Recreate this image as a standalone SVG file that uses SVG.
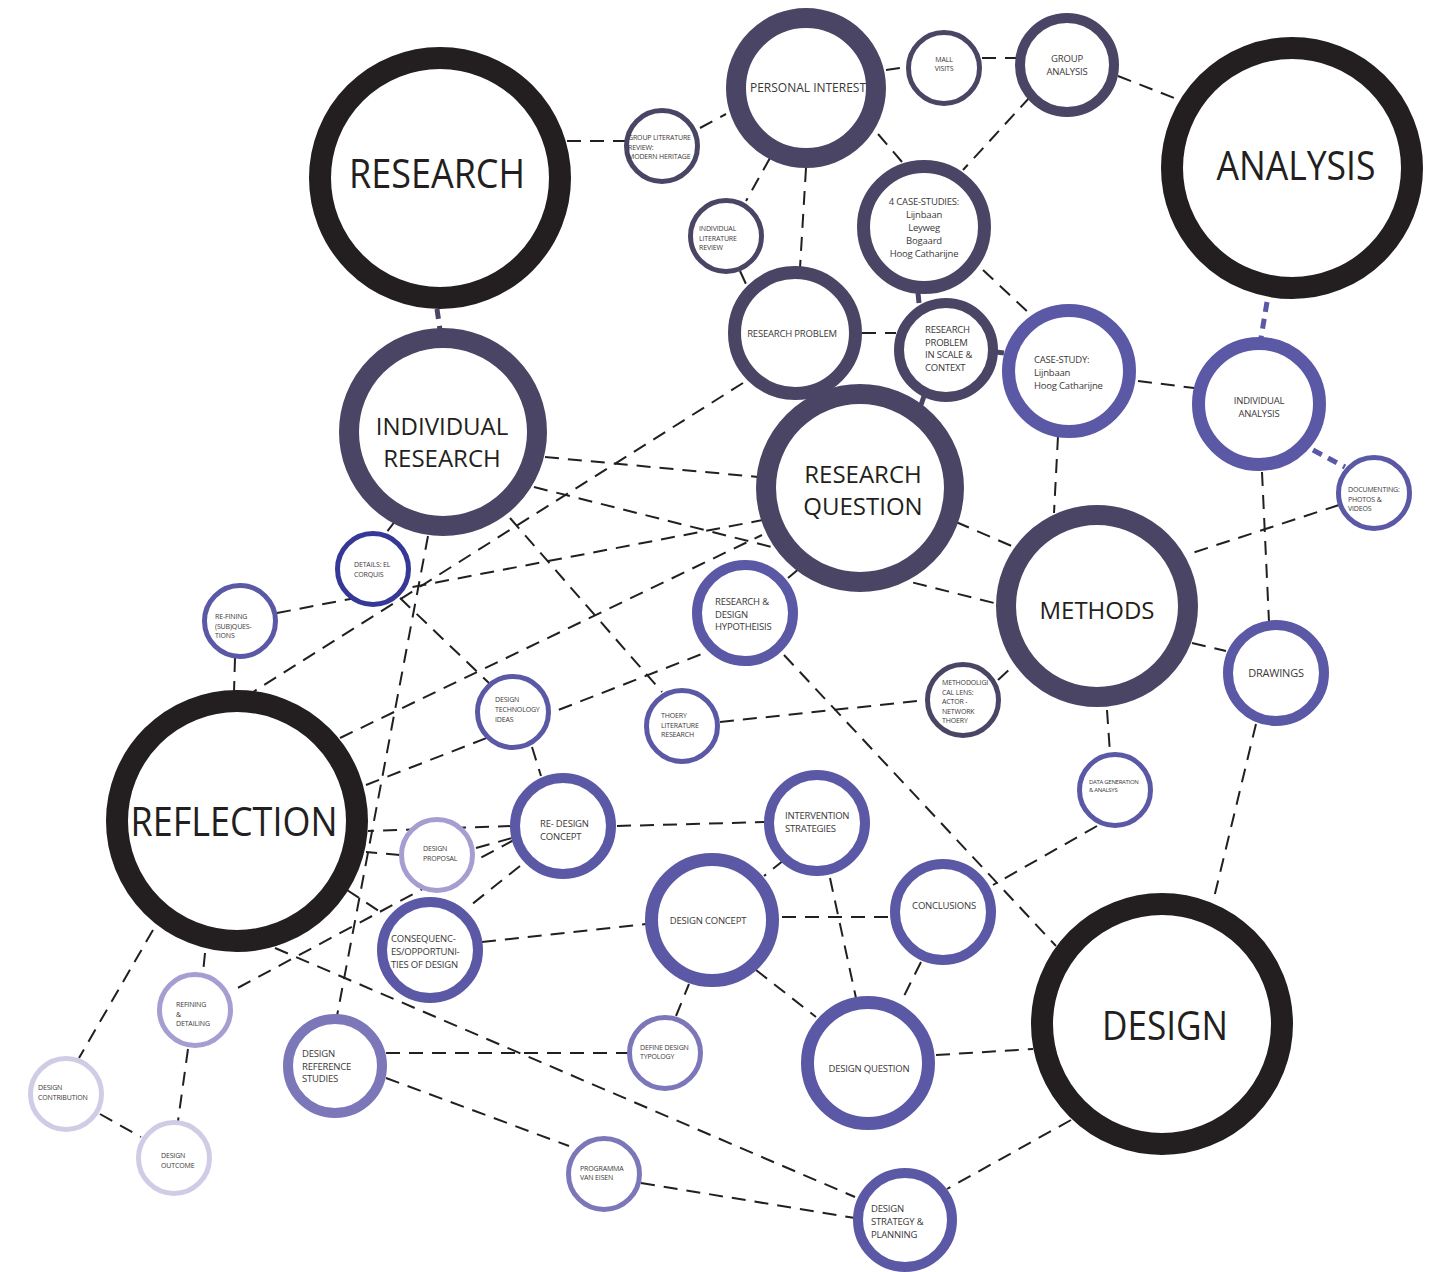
<svg xmlns="http://www.w3.org/2000/svg" width="1439" height="1272" viewBox="0 0 1439 1272">
<style>
.bg{fill:#ffffff}
.c{fill:#ffffff}
.blk{stroke:#231f20;stroke-width:22}
.dp{stroke:#4b4565}
.mp{stroke:#5b58a6}
.bl{stroke:#353896}
.lp{stroke:#7c77b9}
.pp{stroke:#a49fd0}
.vp{stroke:#cfcce6}
.s5{stroke-width:5}
.s10{stroke-width:10}
.s13{stroke-width:13}
.s20{stroke-width:20}
#links line{stroke:#231f20;stroke-width:2;stroke-dasharray:14 9;fill:none}
#links line.thk{stroke:#5b58a6;stroke-width:5;stroke-dasharray:10 7}
#links line.thd{stroke:#4b4565;stroke-width:5;stroke-dasharray:10 7}
#links line.sol{stroke:#4b4565;stroke-width:5;stroke-dasharray:none}
text{font-family:"Open Sans","Noto Sans","DejaVu Sans",sans-serif;fill:#3b3838}
.big{fill:#231f20;font-size:40px}
.mid{fill:#231f20;font-size:24px}
.t12{font-size:12px}
.t10{font-size:9.5px;letter-spacing:-0.2px}
.t7{font-size:7px;letter-spacing:-0.15px}
.t6{font-size:6px;letter-spacing:-0.3px}
.ctr{text-anchor:middle}
</style>
<rect class="bg" x="0" y="0" width="1439" height="1272"/>
<g id="links">
<line x1="567" y1="141" x2="626" y2="141"/>
<line x1="700" y1="128" x2="726" y2="114"/>
<line x1="886" y1="70" x2="908" y2="67"/>
<line x1="982" y1="58" x2="1016" y2="58"/>
<line x1="1118" y1="76" x2="1182" y2="101"/>
<line x1="1030" y1="97" x2="963" y2="170"/>
<line x1="878" y1="134" x2="902" y2="162"/>
<line x1="770" y1="158" x2="746" y2="201"/>
<line x1="806" y1="168" x2="800" y2="268"/>
<line x1="740" y1="271" x2="746" y2="284"/>
<line class="sol" x1="918" y1="293" x2="919" y2="303"/>
<line x1="983" y1="270" x2="1030" y2="314"/>
<line x1="862" y1="333" x2="896" y2="333"/>
<line class="sol" x1="924" y1="396" x2="921" y2="405"/>
<line class="sol" x1="996" y1="352" x2="1004" y2="353"/>
<line x1="1138" y1="381" x2="1194" y2="388"/>
<line class="thk" x1="1267" y1="302" x2="1261" y2="338"/>
<line class="thk" x1="1313" y1="450" x2="1345" y2="467"/>
<line x1="1262" y1="472" x2="1269" y2="622"/>
<line x1="1339" y1="505" x2="1186" y2="555"/>
<line x1="1058" y1="436" x2="1054" y2="513"/>
<line class="thd" x1="437" y1="309" x2="440" y2="330"/>
<line x1="545" y1="457" x2="758" y2="477"/>
<line x1="534" y1="487" x2="998" y2="604"/>
<line x1="956" y1="522" x2="1014" y2="547"/>
<line x1="743" y1="383" x2="253" y2="692"/>
<line x1="235" y1="658" x2="234" y2="692"/>
<line x1="277" y1="613" x2="768" y2="519"/>
<line x1="340" y1="738" x2="762" y2="535"/>
<line x1="428" y1="536" x2="337" y2="1016"/>
<line x1="510" y1="518" x2="662" y2="692"/>
<line x1="396" y1="520" x2="386" y2="533"/>
<line x1="400" y1="598" x2="490" y2="684"/>
<line x1="532" y1="747" x2="541" y2="776"/>
<line x1="366" y1="785" x2="707" y2="652"/>
<line x1="788" y1="578" x2="800" y2="568"/>
<line x1="784" y1="655" x2="1056" y2="946"/>
<line x1="720" y1="722" x2="927" y2="700"/>
<line x1="998" y1="680" x2="1013" y2="666"/>
<line x1="1192" y1="643" x2="1226" y2="651"/>
<line x1="1107" y1="710" x2="1110" y2="753"/>
<line x1="1256" y1="724" x2="1213" y2="902"/>
<line x1="1097" y1="826" x2="993" y2="885"/>
<line x1="921" y1="962" x2="902" y2="1000"/>
<line x1="782" y1="917" x2="891" y2="917"/>
<line x1="830" y1="878" x2="856" y2="998"/>
<line x1="784" y1="860" x2="764" y2="876"/>
<line x1="617" y1="826" x2="765" y2="822"/>
<line x1="512" y1="826" x2="368" y2="831"/>
<line x1="400" y1="855" x2="366" y2="852"/>
<line x1="476" y1="848" x2="512" y2="838"/>
<line x1="347" y1="890" x2="382" y2="913"/>
<line x1="514" y1="840" x2="232" y2="991"/>
<line x1="520" y1="866" x2="466" y2="909"/>
<line x1="482" y1="942" x2="646" y2="924"/>
<line x1="205" y1="953" x2="203" y2="973"/>
<line x1="153" y1="930" x2="79" y2="1058"/>
<line x1="100" y1="1114" x2="141" y2="1137"/>
<line x1="188" y1="1049" x2="178" y2="1121"/>
<line x1="275" y1="948" x2="855" y2="1197"/>
<line x1="386" y1="1053" x2="628" y2="1053"/>
<line x1="386" y1="1078" x2="569" y2="1146"/>
<line x1="641" y1="1183" x2="855" y2="1218"/>
<line x1="676" y1="1016" x2="689" y2="984"/>
<line x1="756" y1="970" x2="816" y2="1017"/>
<line x1="936" y1="1055" x2="1033" y2="1049"/>
<line x1="1071" y1="1120" x2="947" y2="1189"/>
</g>
<g id="research"><circle class="c blk" cx="440" cy="178" r="120"/><text class="big ctr" x="437" y="188" textLength="176" lengthAdjust="spacingAndGlyphs">RESEARCH</text></g>
<g id="analysis"><circle class="c blk" cx="1292" cy="168" r="120"/><text class="big ctr" x="1296" y="180" textLength="159" lengthAdjust="spacingAndGlyphs">ANALYSIS</text></g>
<g id="reflection"><circle class="c blk" cx="237" cy="821" r="120"/><text class="big ctr" x="234" y="836" textLength="207" lengthAdjust="spacingAndGlyphs">REFLECTION</text></g>
<g id="design"><circle class="c blk" cx="1162" cy="1024" r="120"/><text class="big ctr" x="1165" y="1040" textLength="126" lengthAdjust="spacingAndGlyphs">DESIGN</text></g>
<g id="personal-interest"><circle class="c dp s20" cx="806" cy="88" r="70"/><text class="t12 ctr" x="808" y="92" textLength="116" lengthAdjust="spacingAndGlyphs">PERSONAL INTEREST</text></g>
<g id="group-literature-review"><circle class="c dp s5" cx="662" cy="146" r="35.5"/><text class="t7" x="628" y="140"><tspan x="628">GROUP LITERATURE</tspan><tspan x="628" dy="9.5">REVIEW:</tspan><tspan x="628" dy="9.5">MODERN HERITAGE</tspan></text></g>
<g id="mall-visits"><circle class="c dp s5" cx="944" cy="68" r="35.5"/><text class="t7 ctr" x="944" y="62"><tspan x="944">MALL</tspan><tspan x="944" dy="9">VISITS</tspan></text></g>
<g id="group-analysis"><circle class="c dp s10" cx="1067" cy="65" r="47"/><text class="t10 ctr" x="1067" y="62"><tspan x="1067">GROUP</tspan><tspan x="1067" dy="13">ANALYSIS</tspan></text></g>
<g id="individual-literature-review"><circle class="c dp s5" cx="726" cy="236" r="35.5"/><text class="t7" x="699" y="231"><tspan x="699">INDIVIDUAL</tspan><tspan x="699" dy="9.5">LITERATURE</tspan><tspan x="699" dy="9.5">REVIEW</tspan></text></g>
<g id="case-studies-4"><circle class="c dp s13" cx="924" cy="227" r="60.5"/><text class="t10 ctr" x="924" y="205"><tspan x="924">4 CASE-STUDIES:</tspan><tspan x="924" dy="13">Lijnbaan</tspan><tspan x="924" dy="13">Leyweg</tspan><tspan x="924" dy="13">Bogaard</tspan><tspan x="924" dy="13">Hoog Catharijne</tspan></text></g>
<g id="research-problem"><circle class="c dp s13" cx="795" cy="333" r="60.5"/><text class="t10 ctr" x="792" y="337">RESEARCH PROBLEM</text></g>
<g id="research-problem-scale"><circle class="c dp s10" cx="946" cy="350" r="47"/><text class="t10" x="925" y="333"><tspan x="925">RESEARCH</tspan><tspan x="925" dy="12.7">PROBLEM</tspan><tspan x="925" dy="12.7">IN SCALE &amp;</tspan><tspan x="925" dy="12.7">CONTEXT</tspan></text></g>
<g id="case-study"><circle class="c mp s13" cx="1069" cy="371" r="60.5"/><text class="t10" x="1034" y="363"><tspan x="1034">CASE-STUDY:</tspan><tspan x="1034" dy="13">Lijnbaan</tspan><tspan x="1034" dy="13">Hoog Catharijne</tspan></text></g>
<g id="individual-analysis"><circle class="c mp s13" cx="1259" cy="404" r="60.5"/><text class="t10 ctr" x="1259" y="404"><tspan x="1259">INDIVIDUAL</tspan><tspan x="1259" dy="13">ANALYSIS</tspan></text></g>
<g id="documenting"><circle class="c mp s5" cx="1374" cy="493" r="35.5"/><text class="t7" x="1348" y="492"><tspan x="1348">DOCUMENTING:</tspan><tspan x="1348" dy="9.5">PHOTOS &amp;</tspan><tspan x="1348" dy="9.5">VIDEOS</tspan></text></g>
<g id="individual-research"><circle class="c dp s20" cx="443" cy="432" r="94"/><text class="mid ctr" x="442" y="435"><tspan x="442">INDIVIDUAL</tspan><tspan x="442" dy="32">RESEARCH</tspan></text></g>
<g id="research-question"><circle class="c dp s20" cx="860" cy="488" r="94"/><text class="mid ctr" x="863" y="483"><tspan x="863">RESEARCH</tspan><tspan x="863" dy="32">QUESTION</tspan></text></g>
<g id="methods"><circle class="c dp s20" cx="1097" cy="606" r="91"/><text class="mid ctr" x="1097" y="619">METHODS</text></g>
<g id="details-el-corquis"><circle class="c bl s5" cx="373" cy="569" r="35.5"/><text class="t7" x="354" y="567"><tspan x="354">DETAILS: EL</tspan><tspan x="354" dy="9.5">CORQUIS</tspan></text></g>
<g id="refining-subquestions"><circle class="c mp s5" cx="240" cy="621" r="35.5"/><text class="t7" x="215" y="619"><tspan x="215">RE-FINING</tspan><tspan x="215" dy="9.5">(SUB)QUES-</tspan><tspan x="215" dy="9.5">TIONS</tspan></text></g>
<g id="research-design-hypothesis"><circle class="c mp s10" cx="745" cy="613" r="48"/><text class="t10" x="715" y="605"><tspan x="715">RESEARCH &amp;</tspan><tspan x="715" dy="12.5">DESIGN</tspan><tspan x="715" dy="12.5">HYPOTHEISIS</tspan></text></g>
<g id="drawings"><circle class="c mp s10" cx="1276" cy="673" r="48"/><text class="t10 ctr" x="1276" y="677" style="font-size:11px">DRAWINGS</text></g>
<g id="methodological-lens"><circle class="c dp s5" cx="963" cy="700" r="35.5"/><text class="t7" x="942" y="685"><tspan x="942">METHODOLIGI</tspan><tspan x="942" dy="9.6">CAL LENS:</tspan><tspan x="942" dy="9.6">ACTOR -</tspan><tspan x="942" dy="9.6">NETWORK</tspan><tspan x="942" dy="9.6">THOERY</tspan></text></g>
<g id="design-technology-ideas"><circle class="c mp s5" cx="513" cy="712" r="35.5"/><text class="t7" x="495" y="702"><tspan x="495">DESIGN</tspan><tspan x="495" dy="10">TECHNOLOGY</tspan><tspan x="495" dy="10">IDEAS</tspan></text></g>
<g id="theory-literature-research"><circle class="c mp s5" cx="682" cy="726" r="35.5"/><text class="t7" x="661" y="718"><tspan x="661">THOERY</tspan><tspan x="661" dy="9.5">LITERATURE</tspan><tspan x="661" dy="9.5">RESEARCH</tspan></text></g>
<g id="data-generation"><circle class="c mp s5" cx="1115" cy="790" r="35.5"/><text class="t6" x="1089" y="784"><tspan x="1089">DATA GENERATION</tspan><tspan x="1089" dy="8">&amp; ANALSYS</tspan></text></g>
<g id="re-design-concept"><circle class="c mp s10" cx="563" cy="826" r="48"/><text class="t10" x="540" y="827"><tspan x="540">RE- DESIGN</tspan><tspan x="540" dy="13">CONCEPT</tspan></text></g>
<g id="intervention-strategies"><circle class="c mp s10" cx="817" cy="823" r="48"/><text class="t10" x="785" y="819"><tspan x="785">INTERVENTION</tspan><tspan x="785" dy="12.5">STRATEGIES</tspan></text></g>
<g id="design-proposal"><circle class="c pp s5" cx="437" cy="855" r="35.5"/><text class="t7" x="423" y="851"><tspan x="423">DESIGN</tspan><tspan x="423" dy="10">PROPOSAL</tspan></text></g>
<g id="consequences"><circle class="c mp s10" cx="430" cy="950" r="48"/><text class="t10" x="391" y="942"><tspan x="391">CONSEQUENC-</tspan><tspan x="391" dy="13">ES/OPPORTUNI-</tspan><tspan x="391" dy="13">TIES OF DESIGN</tspan></text></g>
<g id="design-concept"><circle class="c mp s13" cx="712" cy="920" r="60.5"/><text class="t10 ctr" x="708" y="924">DESIGN CONCEPT</text></g>
<g id="conclusions"><circle class="c mp s10" cx="943" cy="912" r="48"/><text class="t10 ctr" x="944" y="909">CONCLUSIONS</text></g>
<g id="design-question"><circle class="c mp s13" cx="868" cy="1063" r="60.5"/><text class="t10 ctr" x="869" y="1072">DESIGN QUESTION</text></g>
<g id="refining-detailing"><circle class="c pp s5" cx="195" cy="1010" r="35.5"/><text class="t7" x="176" y="1007"><tspan x="176">REFINING</tspan><tspan x="176" dy="9.5">&amp;</tspan><tspan x="176" dy="9.5">DETAILING</tspan></text></g>
<g id="design-reference-studies"><circle class="c lp s10" cx="335" cy="1066" r="47"/><text class="t10" x="302" y="1057"><tspan x="302">DESIGN</tspan><tspan x="302" dy="12.7">REFERENCE</tspan><tspan x="302" dy="12.7">STUDIES</tspan></text></g>
<g id="define-design-typology"><circle class="c lp s5" cx="665" cy="1053" r="35.5"/><text class="t7" x="640" y="1050"><tspan x="640">DEFINE DESIGN</tspan><tspan x="640" dy="9">TYPOLOGY</tspan></text></g>
<g id="design-contribution"><circle class="c vp s5" cx="66" cy="1094" r="35.5"/><text class="t7" x="38" y="1090"><tspan x="38">DESIGN</tspan><tspan x="38" dy="10">CONTRIBUTION</tspan></text></g>
<g id="design-outcome"><circle class="c vp s5" cx="174" cy="1158" r="35.5"/><text class="t7" x="161" y="1158"><tspan x="161">DESIGN</tspan><tspan x="161" dy="10">OUTCOME</tspan></text></g>
<g id="programma-van-eisen"><circle class="c lp s5" cx="604" cy="1174" r="35.5"/><text class="t7" x="580" y="1171"><tspan x="580">PROGRAMMA</tspan><tspan x="580" dy="9">VAN EISEN</tspan></text></g>
<g id="design-strategy-planning"><circle class="c mp s10" cx="905" cy="1220" r="47"/><text class="t10" x="871" y="1212"><tspan x="871">DESIGN</tspan><tspan x="871" dy="13">STRATEGY &amp;</tspan><tspan x="871" dy="13">PLANNING</tspan></text></g>
</svg>
